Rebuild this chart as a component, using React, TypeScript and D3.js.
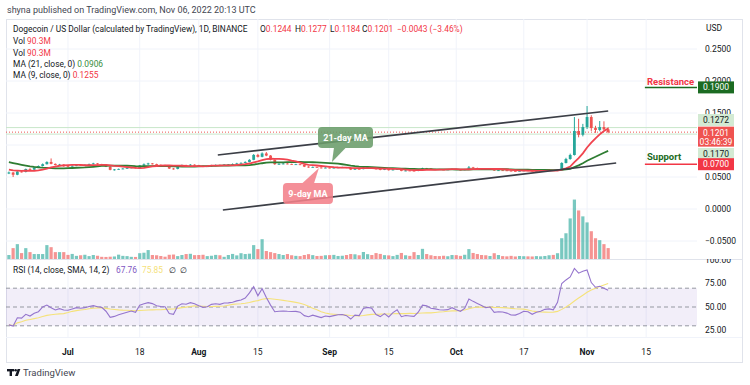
import React from "react";
import * as d3 from "d3";

// ---------- DATA ----------
const START = Date.UTC(2022, 5, 17); // first candle: 17 Jun 2022
const DAY = 86400000;

const firstOpen = 0.0555;
const priorCloses = [0.084, 0.086, 0.085, 0.087, 0.086, 0.084, 0.083, 0.082, 0.080, 0.078, 0.075, 0.071, 0.066, 0.062, 0.060, 0.061, 0.063, 0.064, 0.062, 0.060];

const closes = [
  0.0570, 0.0535, 0.0585, 0.0578, 0.0625, 0.0615, 0.0648, 0.0672, 0.0700, 0.0735,
  0.0705, 0.0688, 0.0694, 0.0668, 0.0666, 0.0675, 0.0688, 0.0681, 0.0690, 0.0702,
  0.0712, 0.0700, 0.0694, 0.0662, 0.0612, 0.0618, 0.0626, 0.0632, 0.0641, 0.0650,
  0.0640, 0.0680, 0.0698, 0.0712, 0.0703, 0.0690, 0.0684, 0.0681, 0.0632, 0.0626,
  0.0668, 0.0684, 0.0680, 0.0692, 0.0685, 0.0672, 0.0662, 0.0667, 0.0682, 0.0688,
  0.0683, 0.0694, 0.0695, 0.0702, 0.0712, 0.0720, 0.0735, 0.0768, 0.0845, 0.0815,
  0.0868, 0.0835, 0.0770, 0.0700, 0.0706, 0.0710, 0.0704, 0.0696, 0.0699, 0.0690,
  0.0662, 0.0650, 0.0657, 0.0648, 0.0640, 0.0646, 0.0640, 0.0645, 0.0650, 0.0652,
  0.0644, 0.0615, 0.0627, 0.0623, 0.0648, 0.0653, 0.0648, 0.0622, 0.0612, 0.0622,
  0.0606, 0.0617, 0.0627, 0.0596, 0.0601, 0.0598, 0.0595, 0.0608, 0.0636, 0.0632,
  0.0624, 0.0621, 0.0617, 0.0615, 0.0617, 0.0624, 0.0616, 0.0610, 0.0620, 0.0650,
  0.0641, 0.0635, 0.0627, 0.0620, 0.0622, 0.0602, 0.0605, 0.0603, 0.0599, 0.0592,
  0.0591, 0.0596, 0.0602, 0.0600, 0.0591, 0.0596, 0.0599, 0.0604, 0.0606, 0.0602,
  0.0615, 0.0719, 0.0781, 0.0844, 0.1219, 0.1160, 0.1280, 0.1437, 0.1265, 0.1235,
  0.1280, 0.1244, 0.1201,
];

const highs = [
  0.0585, 0.0578, 0.0592, 0.0600, 0.0632, 0.0638, 0.0655, 0.0680, 0.0712, 0.0745,
  0.0790, 0.0712, 0.0705, 0.0700, 0.0676, 0.0682, 0.0696, 0.0694, 0.0698, 0.0710,
  0.0722, 0.0718, 0.0706, 0.0698, 0.0666, 0.0625, 0.0632, 0.0640, 0.0648, 0.0658,
  0.0655, 0.0688, 0.0712, 0.0722, 0.0718, 0.0708, 0.0696, 0.0690, 0.0684, 0.0640,
  0.0675, 0.0695, 0.0692, 0.0702, 0.0698, 0.0690, 0.0676, 0.0674, 0.0690, 0.0697,
  0.0694, 0.0702, 0.0703, 0.0712, 0.0722, 0.0730, 0.0745, 0.0778, 0.0858, 0.0862,
  0.0885, 0.0890, 0.0842, 0.0775, 0.0716, 0.0720, 0.0716, 0.0708, 0.0706, 0.0703,
  0.0694, 0.0668, 0.0664, 0.0662, 0.0652, 0.0652, 0.0650, 0.0650, 0.0657, 0.0660,
  0.0656, 0.0648, 0.0632, 0.0632, 0.0660, 0.0662, 0.0658, 0.0652, 0.0626, 0.0628,
  0.0626, 0.0624, 0.0634, 0.0630, 0.0608, 0.0606, 0.0603, 0.0614, 0.0645, 0.0642,
  0.0636, 0.0630, 0.0626, 0.0622, 0.0624, 0.0630, 0.0628, 0.0620, 0.0626, 0.0672,
  0.0658, 0.0646, 0.0640, 0.0632, 0.0628, 0.0626, 0.0611, 0.0610, 0.0607, 0.0603,
  0.0598, 0.0602, 0.0608, 0.0607, 0.0604, 0.0601, 0.0604, 0.0610, 0.0612, 0.0610,
  0.0622, 0.0730, 0.0800, 0.0865, 0.1437, 0.1410, 0.1330, 0.1609, 0.1465, 0.1300,
  0.1375, 0.1370, 0.1277,
];

const lows = [
  0.0545, 0.0500, 0.0528, 0.0570, 0.0572, 0.0605, 0.0610, 0.0640, 0.0665, 0.0695,
  0.0698, 0.0680, 0.0680, 0.0660, 0.0655, 0.0660, 0.0670, 0.0675, 0.0676, 0.0684,
  0.0696, 0.0694, 0.0688, 0.0655, 0.0605, 0.0600, 0.0612, 0.0620, 0.0626, 0.0636,
  0.0634, 0.0636, 0.0672, 0.0690, 0.0696, 0.0684, 0.0678, 0.0672, 0.0625, 0.0615,
  0.0620, 0.0662, 0.0674, 0.0676, 0.0678, 0.0665, 0.0655, 0.0658, 0.0662, 0.0676,
  0.0677, 0.0678, 0.0688, 0.0690, 0.0697, 0.0706, 0.0714, 0.0728, 0.0762, 0.0805,
  0.0808, 0.0825, 0.0760, 0.0690, 0.0688, 0.0698, 0.0698, 0.0690, 0.0690, 0.0684,
  0.0655, 0.0645, 0.0645, 0.0642, 0.0634, 0.0636, 0.0634, 0.0635, 0.0640, 0.0645,
  0.0638, 0.0608, 0.0610, 0.0617, 0.0620, 0.0642, 0.0642, 0.0615, 0.0605, 0.0608,
  0.0600, 0.0602, 0.0612, 0.0590, 0.0590, 0.0592, 0.0588, 0.0590, 0.0604, 0.0626,
  0.0618, 0.0616, 0.0612, 0.0608, 0.0610, 0.0612, 0.0610, 0.0604, 0.0606, 0.0616,
  0.0634, 0.0628, 0.0620, 0.0614, 0.0614, 0.0596, 0.0597, 0.0598, 0.0594, 0.0586,
  0.0585, 0.0587, 0.0592, 0.0595, 0.0586, 0.0588, 0.0592, 0.0595, 0.0600, 0.0597,
  0.0598, 0.0610, 0.0712, 0.0770, 0.0835, 0.1120, 0.1135, 0.1250, 0.1220, 0.1190,
  0.1215, 0.1230, 0.1184,
];

const volumes = [
  33, 90, 123, 49, 90, 57, 41, 41, 41, 115, 98, 57, 57, 57,
  34, 42, 26, 31, 35, 24, 33, 27, 18, 17, 19, 21, 36, 26, 24, 18, 17, 48, 52, 74, 33, 31, 25, 19, 35, 37, 24, 33, 41, 43, 32,
  33, 35, 24, 27, 34, 31, 18, 33, 42, 30, 48, 41, 44, 115, 82, 164, 66, 57, 49, 41, 33, 41, 31, 26, 24, 33, 40, 32, 25, 26, 31,
  32, 34, 25, 27, 33, 41, 39, 31, 58, 40, 33, 49, 42, 32, 30, 24, 34, 50, 31, 26, 57, 33, 84, 41, 31, 25, 24, 27, 23, 33,
  32, 26, 35, 82, 50, 41, 33, 31, 25, 48, 33, 24, 22, 26, 21, 25, 23, 22, 21, 24, 22, 25, 31, 34, 48,
  172, 213, 336, 492, 402, 353, 303, 230, 172, 156, 123, 90.3,
];

const rsiValues = [
  31, 29.8, 38.6, 38.2, 42.2, 40.4, 43.3, 45, 50, 52.1,
  49.3, 46.8, 48.2, 46.8, 46.6, 47.9, 49.3, 48.6, 49.3, 50.5,
  51.4, 50.3, 49.6, 45.5, 39, 40, 41.8, 43.1, 44.5, 45.7,
  44.3, 52, 53.5, 54.6, 53.6, 51.4, 50.5, 50.3, 43, 42.2,
  51, 53.5, 53, 54.6, 53.5, 51.3, 49.6, 50.3, 52.8, 53.5,
  52.8, 54.3, 54.4, 55, 56.5, 57.5, 59.5, 65, 71.6, 62,
  69.5, 60, 52, 45, 45.5, 45.7, 45.4, 45.2, 45.3, 44.5,
  40.8, 39.7, 41.3, 40, 38.7, 40.4, 39.8, 40.8, 41.8, 42,
  40.8, 37.2, 41.3, 40.8, 48.4, 49.6, 48.6, 42, 39.8, 43,
  39.4, 44, 47, 39.7, 41, 40.5, 40, 44.5, 52, 51.2,
  48.6, 48, 47, 46.8, 47.2, 49.3, 47, 45.4, 48.5, 58.5,
  56, 53.8, 51.5, 49.3, 50, 44.3, 45, 44.6, 43.5, 41.5,
  41.4, 43, 45.5, 45, 42.2, 44.5, 45.5, 47.5, 48, 47,
  55, 75, 78.8, 82, 91, 86, 88, 89.4, 76, 71,
  72, 70, 67.76,
];

const priceTicks = [0.25, 0.2, 0.15, 0.1, 0.05, 0, -0.05];
const priceLabelTicks = [0.25, 0.2, 0.15, 0.05, 0, -0.05];
const rsiTicks = [100, 75, 50, 25];
const rsiBands = [70, 50, 30];
const dateTicks = [
  { date: Date.UTC(2022, 6, 1), label: "Jul", major: true },
  { date: Date.UTC(2022, 6, 18), label: "18", major: false },
  { date: Date.UTC(2022, 7, 1), label: "Aug", major: true },
  { date: Date.UTC(2022, 7, 15), label: "15", major: false },
  { date: Date.UTC(2022, 8, 1), label: "Sep", major: true },
  { date: Date.UTC(2022, 8, 15), label: "15", major: false },
  { date: Date.UTC(2022, 9, 1), label: "Oct", major: true },
  { date: Date.UTC(2022, 9, 17), label: "17", major: false },
  { date: Date.UTC(2022, 10, 1), label: "Nov", major: true },
  { date: Date.UTC(2022, 10, 15), label: "15", major: false },
];

// trend lines [day index, price]
const upperTrend = [[49.5, 0.0844], [142, 0.1531]];
const lowerTrend = [[50.7, -0.0016], [143.9, 0.0719]];
const resistanceLevel = 0.19;
const supportLevel = 0.07;
const levelStartIdx = 150.7;
const highLine = 0.1272;
const lowLine = 0.117;
const lastPrice = 0.1201;

// ---------- STYLE ----------
const W = 750, H = 385;
const PL = 6, PR = 697, MAIN_T = 19, MAIN_B = 259, RSI_B = 337, AXIS_B = 362, FRAME_R = 742;
const FONT = "Roboto, 'Noto Sans', sans-serif";
const UP = "#26a69a", DOWN = "#ef5350";
const TXT = "#131722";
const GRID = "#f0f3fa";

export default function App() {
  const dayDate = (i: number) => new Date(START + i * DAY);
  const x = d3.scaleUtc()
    .domain([new Date(START - 0.687 * DAY), new Date(START + 163.05 * DAY)])
    .range([PL, PR]);
  const xi = (i: number) => x(dayDate(i));
  const y = d3.scaleLinear().domain([-0.05, 0.25]).range([241, 49]);
  const yv = d3.scaleLinear().domain([0, 500]).range([MAIN_B, MAIN_B - 60.4]);
  const yr = d3.scaleLinear().domain([0, 100]).range([354, 260]);

  const opens = closes.map((c, i) => (i === 0 ? firstOpen : closes[i - 1]));
  const allCloses = [...priorCloses, ...closes];
  const movAvg = (n: number) =>
    closes.map((_, i) => d3.mean(allCloses.slice(i + priorCloses.length - n + 1, i + priorCloses.length + 1)) as number);
  const ma21 = movAvg(21);
  const ma9 = movAvg(9);
  const rsiMa = rsiValues.map((_, i) => d3.mean(rsiValues.slice(Math.max(0, i - 13), i + 1)) as number);

  const lineP = d3.line<number>().x((_, i) => xi(i)).y((v) => y(v));
  const lineR = d3.line<number>().x((_, i) => xi(i)).y((v) => yr(v));

  const bw = 2.8;

  // callouts anchored in data space
  const tip21 = { x: xi(76.56), y: y(0.0734) };
  const tip9 = { x: xi(73.47), y: y(0.0641) };

  const axisBox = (cy: number, fill: string, color: string, label: string, key: string, h = 12) => (
    <g key={key}>
      <rect x={698} y={cy - h / 2} width={36} height={h} fill={fill} />
      <text x={716} y={cy} dy="0.35em" textAnchor="middle" fontSize={8.5} fill={color} fontFamily={FONT}>{label}</text>
    </g>
  );

  return (
    <div style={{ position: "absolute", left: 0, top: 0, width: W, height: H, background: "#fff" }}>
      <svg width={W} height={H} style={{ display: "block" }} fontFamily={FONT}>
        <defs>
          <clipPath id="mainClip"><rect x={PL} y={MAIN_T} width={PR - PL} height={MAIN_B - MAIN_T} /></clipPath>
          <clipPath id="rsiClip"><rect x={PL} y={MAIN_B} width={FRAME_R - PL} height={RSI_B - MAIN_B} /></clipPath>
        </defs>
        <rect width={W} height={H} fill="#fff" />
        <text x={7} y={10} dy="0.35em" fontSize={9} fill="#434651">shyna published on TradingView.com, Nov 06, 2022 20:13 UTC</text>

        {/* frame */}
        <rect x={PL + 0.5} y={MAIN_T + 0.5} width={FRAME_R - PL} height={AXIS_B - MAIN_T} fill="none" stroke="#e0e3eb" />

        {/* grid */}
        {dateTicks.map((t) => (
          <line key={"vg" + t.date} x1={x(new Date(t.date))} x2={x(new Date(t.date))} y1={MAIN_T} y2={RSI_B} stroke={GRID} />
        ))}
        {priceTicks.map((p) => (
          <line key={"hg" + p} x1={PL} x2={PR} y1={y(p)} y2={y(p)} stroke={GRID} />
        ))}
        <line x1={PL} x2={FRAME_R} y1={MAIN_B + 0.5} y2={MAIN_B + 0.5} stroke="#e0e3eb" />
        <line x1={PL} x2={FRAME_R} y1={RSI_B + 0.5} y2={RSI_B + 0.5} stroke="#f0f3fa" />

        <g clipPath="url(#mainClip)">
          {/* volume */}
          {volumes.map((v, i) => (
            <rect key={"v" + i} x={xi(i) - 1.6} y={yv(v)} width={3.2} height={MAIN_B - yv(v)}
              fill={closes[i] >= opens[i] ? UP : DOWN} opacity={0.62} />
          ))}
          {/* level lines */}
          <line x1={PL} x2={PR} y1={y(highLine)} y2={y(highLine)} stroke="#c8e6c9" />
          <line x1={PL} x2={PR} y1={y(lowLine)} y2={y(lowLine)} stroke="#c8e6c9" />
          <line x1={PL} x2={PR} y1={y(lastPrice)} y2={y(lastPrice)} stroke={DOWN} strokeDasharray="1,2" />
          {/* candles */}
          {closes.map((c, i) => {
            const o = opens[i];
            const col = c >= o ? UP : DOWN;
            const top = y(Math.max(o, c));
            const bh = Math.max(0.8, Math.abs(y(o) - y(c)));
            return (
              <g key={"c" + i}>
                <line x1={xi(i)} x2={xi(i)} y1={y(highs[i])} y2={y(lows[i])} stroke={col} strokeWidth={1} />
                <rect x={xi(i) - bw / 2} y={top} width={bw} height={bh} fill={col} />
              </g>
            );
          })}
          {/* moving averages */}
          <path d={lineP(ma21) || ""} fill="none" stroke="#2e7d32" strokeWidth={1.8} />
          <path d={lineP(ma9) || ""} fill="none" stroke="#f0444f" strokeWidth={1.8} />
          {/* trend lines */}
          {[upperTrend, lowerTrend].map((t, k) => (
            <line key={"tr" + k} x1={xi(t[0][0])} y1={y(t[0][1])} x2={xi(t[1][0])} y2={y(t[1][1])}
              stroke="#3b3e46" strokeWidth={1.7} />
          ))}
          {/* resistance / support */}
          <line x1={xi(levelStartIdx)} x2={PR} y1={y(resistanceLevel)} y2={y(resistanceLevel)} stroke="#1b6b22" strokeWidth={1.5} />
          <line x1={xi(levelStartIdx)} x2={PR} y1={y(supportLevel)} y2={y(supportLevel)} stroke="#f23645" strokeWidth={1.5} />
        </g>

        {/* callouts */}
        <g opacity={0.88}>
          <rect x={tip21.x - 14} y={tip21.y - 35} width={55} height={21} rx={4} fill="#6b9d6b" />
          <path d={`M${tip21.x + 2},${tip21.y - 14.5} L${tip21.x + 14},${tip21.y - 14.5} L${tip21.x},${tip21.y} Z`} fill="#6b9d6b" />
          <rect x={tip9.x - 36} y={tip9.y + 15} width={50} height={21} rx={4} fill="#f3808a" />
          <path d={`M${tip9.x - 17},${tip9.y + 15.5} L${tip9.x - 5},${tip9.y + 15.5} L${tip9.x},${tip9.y} Z`} fill="#f3808a" />
        </g>
        <text x={tip21.x + 13.5} y={tip21.y - 24.5} dy="0.35em" textAnchor="middle" fontSize={9} fontWeight="bold" fill="#fff">21-day MA</text>
        <text x={tip9.x - 11} y={tip9.y + 25.5} dy="0.35em" textAnchor="middle" fontSize={9} fontWeight="bold" fill="#fff">9-day MA</text>

        {/* level labels */}
        <text x={647} y={y(resistanceLevel) - 6} dy="0.35em" fontSize={9.5} fontWeight="bold" fill="#f23645">Resistance</text>
        <text x={647} y={y(supportLevel) - 8} dy="0.35em" fontSize={9.5} fontWeight="bold" fill="#1b6b22">Support</text>

        {/* RSI pane */}
        <g clipPath="url(#rsiClip)">
          <rect x={PL} y={yr(70)} width={PR - PL} height={yr(30) - yr(70)} fill="#7e57c2" opacity={0.1} />
          {rsiBands.map((b) => (
            <line key={"rb" + b} x1={PL} x2={PR} y1={yr(b)} y2={yr(b)} stroke="#9598a1" strokeDasharray="4,3" />
          ))}
          <path d={lineR(rsiMa) || ""} fill="none" stroke="#f5e27a" strokeWidth={1.1} />
          <path d={lineR(rsiValues) || ""} fill="none" stroke="#9575cd" strokeWidth={1.1} />
          {rsiTicks.map((t) => (
            <text key={"rt" + t} x={705} y={yr(t)} dy="0.35em" fontSize={8.5} fill={TXT}>{t.toFixed(2)}</text>
          ))}
        </g>

        {/* header legend */}
        <g fontSize={8.4} fill={TXT}>
          <text x={13} y={29} dy="0.35em">Dogecoin / US Dollar (calculated by TradingView), 1D, BINANCE</text>
          <text x={260} y={29} dy="0.35em">O<tspan fill="#f23645">0.1244</tspan></text>
          <text x={295} y={29} dy="0.35em">H<tspan fill="#f23645">0.1277</tspan></text>
          <text x={330} y={29} dy="0.35em">L<tspan fill="#f23645">0.1184</tspan></text>
          <text x={362} y={29} dy="0.35em">C<tspan fill="#f23645">0.1201</tspan></text>
          <text x={397} y={29} dy="0.35em" fill="#f23645">−0.0043 (−3.46%)</text>
          <text x={13} y={41} dy="0.35em">Vol <tspan fill="#f23645">90.3M</tspan></text>
          <text x={13} y={53} dy="0.35em">Vol <tspan fill="#f23645">90.3M</tspan></text>
          <text x={13} y={64} dy="0.35em">MA (21, close, 0) <tspan fill="#388e3c">0.0906</tspan></text>
          <text x={13} y={75} dy="0.35em">MA (9, close, 0) <tspan fill="#f23645">0.1255</tspan></text>
          <text x={13} y={270} dy="0.35em">RSI (14, close, SMA, 14, 2)</text>
          <text x={116} y={270} dy="0.35em" fill="#7e57c2">67.76</text>
          <text x={142} y={270} dy="0.35em" fill="#f5e27a">75.85</text>
          <text x={169} y={270} dy="0.35em">∅</text>
          <text x={180} y={270} dy="0.35em">∅</text>
        </g>

        {/* price axis */}
        <text x={706} y={28} dy="0.35em" fontSize={8.5} fill={TXT}>USD</text>
        {priceLabelTicks.map((p) => (
          <text key={"pt" + p} x={705} y={y(p)} dy="0.35em" fontSize={8.5} fill={TXT}>{p < 0 ? "−" + Math.abs(p).toFixed(4) : p.toFixed(4)}</text>
        ))}
        {axisBox(y(resistanceLevel), "#1b6b22", "#fff", "0.1900", "b1")}
        {axisBox(120, "#d3ead3", TXT, "0.1272", "b2")}
        <g>
          <rect x={698} y={y(lastPrice) - 5.5} width={36} height={20} fill="#ef5350" />
          <text x={716} y={y(lastPrice) + 0.5} dy="0.35em" textAnchor="middle" fontSize={8.5} fill="#fff">0.1201</text>
          <text x={716} y={y(lastPrice) + 10} dy="0.35em" textAnchor="middle" fontSize={8.5} fill="#fff">03:46:39</text>
        </g>
        {axisBox(154, "#d3ead3", TXT, "0.1170", "b3")}
        {axisBox(y(supportLevel), "#f23645", "#fff", "0.0700", "b4")}

        {/* time axis */}
        {dateTicks.map((t) => (
          <text key={"dt" + t.date} x={x(new Date(t.date))} y={352} dy="0.35em" textAnchor="middle" fontSize={8.5}
            fontWeight={t.major ? "bold" : "normal"} fill={TXT}>{t.label}</text>
        ))}

        {/* footer logo */}
        <g fill={TXT}>
          <rect x={7} y={369} width={7} height={2.4} />
          <rect x={9.6} y={369} width={2.4} height={7} />
          <circle cx={15.6} cy={370.3} r={1.3} />
          <path d="M17.6,369 L20.4,369 L17.8,376 L15,376 Z" />
        </g>
        <text x={23} y={373} dy="0.35em" fontSize={9.5} fill="#434651">TradingView</text>
      </svg>
    </div>
  );
}
